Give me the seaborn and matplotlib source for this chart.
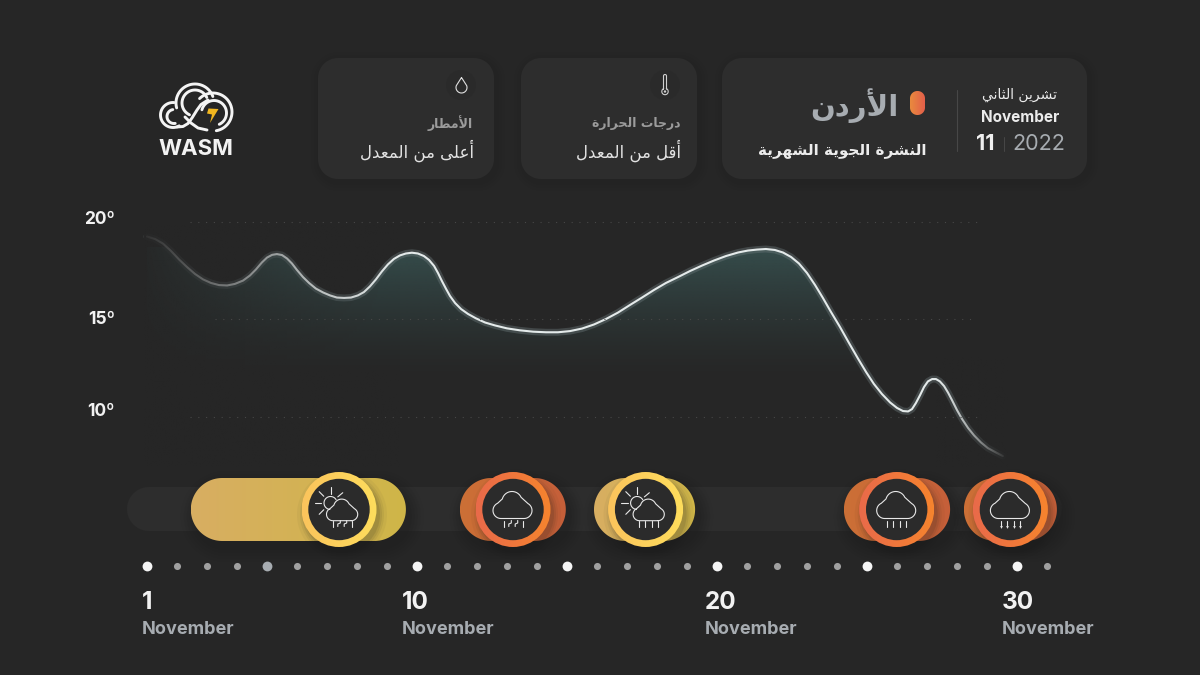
import numpy as np
import pandas as pd
import matplotlib
matplotlib.use('Agg')
import matplotlib.pyplot as plt
import matplotlib.patheffects as pe
from matplotlib.colors import to_rgb
from matplotlib.patches import Circle, Polygon
import seaborn as sns

# temperature curve
curve_days = [1.0, 1.27, 1.53, 1.8, 2.07, 2.33, 2.6, 2.87, 3.13, 3.4, 3.67, 3.93, 4.2, 4.43, 4.63, 4.83, 5.0, 5.17,
              5.33, 5.5, 5.67, 5.83, 6.0, 6.2, 6.4, 6.63, 6.87, 7.1, 7.33, 7.57, 7.8, 8.03, 8.23, 8.43, 8.63, 8.83,
              9.03, 9.23, 9.43, 9.63, 9.83, 10.03, 10.23, 10.4, 10.57, 10.7, 10.83, 10.97, 11.1, 11.27, 11.47, 11.7,
              11.97, 12.27, 12.6, 13.0, 13.43, 13.87, 14.3, 14.7, 15.1, 15.5, 15.9, 16.3, 16.7, 17.1, 17.5, 17.9,
              18.3, 18.7, 19.1, 19.5, 19.9, 20.3, 20.7, 21.03, 21.33, 21.63, 21.93, 22.2, 22.47, 22.73, 23.0, 23.27,
              23.53, 23.8, 24.1, 24.4, 24.7, 24.97, 25.23, 25.5, 25.77, 26.0, 26.2, 26.37, 26.5, 26.63, 26.77, 26.9,
              27.03, 27.17, 27.3, 27.43, 27.57, 27.7, 27.83, 28.0, 28.17, 28.37, 28.57, 28.8, 29.03, 29.27, 29.53]
curve_temps = [19.24, 19.11, 18.88, 18.5, 18.06, 17.68, 17.32, 17.04, 16.86, 16.75, 16.73, 16.81, 16.98, 17.24, 17.55,
               17.91, 18.16, 18.3, 18.34, 18.29, 18.11, 17.86, 17.52, 17.16, 16.86, 16.57, 16.37, 16.22, 16.11, 16.09,
               16.11, 16.22, 16.39, 16.68, 17.04, 17.45, 17.81, 18.09, 18.27, 18.37, 18.41, 18.37, 18.24, 18.04, 17.73,
               17.37, 16.96, 16.55, 16.19, 15.83, 15.52, 15.27, 15.04, 14.83, 14.68, 14.53, 14.43, 14.36, 14.33, 14.33,
               14.39, 14.52, 14.73, 15.01, 15.34, 15.73, 16.11, 16.5, 16.86, 17.16, 17.47, 17.75, 18.01, 18.24, 18.42,
               18.52, 18.57, 18.6, 18.55, 18.42, 18.19, 17.86, 17.37, 16.75, 16.09, 15.37, 14.6, 13.78, 12.98, 12.29,
               11.68, 11.16, 10.73, 10.45, 10.29, 10.27, 10.39, 10.7, 11.11, 11.52, 11.81, 11.93, 11.93, 11.81, 11.57,
               11.24, 10.86, 10.34, 9.88, 9.42, 9.04, 8.68, 8.39, 8.19, 7.98]
temp_ticks = [20, 15, 10]
temp_labels = ['20º', '15º', '10º']

# weather spells on the timeline
spell_start = [2.46, 11.43, 15.9, 24.23, 28.23]
spell_end = [9.63, 14.96, 19.27, 27.77, 31.33]
spell_mark = [7.4, 13.2, 17.62, 25.99, 29.78]
spell_kind = ['sun', 'storm', 'sun', 'storm', 'storm']
spell_rain = ['zig', 'zig', 'line', 'line', 'arrow']

all_days = list(range(1, 32))
major_days = [1, 10, 15, 20, 25, 30]
label_days = ['1', '10', '20', '30']
label_month = 'November'

title_ar = 'الأردن'
subtitle_ar = 'النشرة الجوية الشهرية'
month_ar = 'تشرين الثاني'
temp_head = 'درجات الحرارة'
temp_state = 'أقل من المعدل'
rain_head = 'الأمطار'
rain_state = 'أعلى من المعدل'

BG = '#262626'
CARD = '#2d2d2d'
GREY = '#a7acb1'

sns.set_style('dark')
plt.rcParams['font.family'] = ['Inter', 'DejaVu Sans']

# no shaping engine here, so Arabic goes through presentation forms
FORMS = {'ا': (0xFE8D, 0xFE8E), 'أ': (0xFE83, 0xFE84), 'د': (0xFEA9, 0xFEAA), 'ر': (0xFEAD, 0xFEAE),
         'و': (0xFEED, 0xFEEE), 'ة': (0xFE93, 0xFE94), 'ى': (0xFEEF, 0xFEF0),
         'ت': (0xFE95, 0xFE96, 0xFE97, 0xFE98), 'ث': (0xFE99, 0xFE9A, 0xFE9B, 0xFE9C),
         'ج': (0xFE9D, 0xFE9E, 0xFE9F, 0xFEA0), 'ح': (0xFEA1, 0xFEA2, 0xFEA3, 0xFEA4),
         'ش': (0xFEB5, 0xFEB6, 0xFEB7, 0xFEB8), 'ط': (0xFEC1, 0xFEC2, 0xFEC3, 0xFEC4),
         'ع': (0xFEC9, 0xFECA, 0xFECB, 0xFECC), 'ق': (0xFED5, 0xFED6, 0xFED7, 0xFED8),
         'ل': (0xFEDD, 0xFEDE, 0xFEDF, 0xFEE0), 'م': (0xFEE1, 0xFEE2, 0xFEE3, 0xFEE4),
         'ن': (0xFEE5, 0xFEE6, 0xFEE7, 0xFEE8), 'ه': (0xFEE9, 0xFEEA, 0xFEEB, 0xFEEC),
         'ي': (0xFEF1, 0xFEF2, 0xFEF3, 0xFEF4)}
LAM_ALEF = {'ا': (0xFEFB, 0xFEFC), 'أ': (0xFEF7, 0xFEF8)}


def shape(text):
    out = []
    for word in text.split(' '):
        glyphs = []
        joined = False
        i = 0
        while i < len(word):
            ch = word[i]
            if ch == 'ل' and i + 1 < len(word) and word[i + 1] in LAM_ALEF:
                glyphs.append(chr(LAM_ALEF[word[i + 1]][1 if joined else 0]))
                joined = False
                i += 2
                continue
            forms = FORMS[ch]
            next_ok = len(forms) == 4 and i + 1 < len(word)
            if joined and next_ok:
                glyphs.append(chr(forms[3]))
            elif joined:
                glyphs.append(chr(forms[1]))
            elif next_ok:
                glyphs.append(chr(forms[2]))
            else:
                glyphs.append(chr(forms[0]))
            joined = next_ok
            i += 1
        out.append(''.join(reversed(glyphs)))
    return ' '.join(reversed(out))


fig = plt.figure(figsize=(12, 6.75), dpi=100, facecolor=BG)

# pixel canvas for the cards and the timeline
deco = fig.add_axes([0, 0, 1, 1], zorder=0)
deco.set_xlim(0, 1200)
deco.set_ylim(675, 0)
deco.axis('off')
deco.autoscale(False)

# chart axes: 30 px per day, 19.5 px per degree
ax = fig.add_axes([0, 0, 1, 1], zorder=1)
ax.set_xlim(1 - 147 / 30, 1 + 1053 / 30)
ax.set_ylim(20 - (675 - 221.7) / 19.5, 20 + 221.7 / 19.5)
ax.patch.set_alpha(0)
ax.axis('off')
ax.autoscale(False)


def day_px(day):
    return 147 + 30 * (day - 1)


def temp_px(temp):
    return 221.7 + (20 - temp) * 19.5


def arc(cx, cy, r, a0, a1, n=40):
    a = np.radians(np.linspace(a0, a1, n))
    return np.column_stack([cx + r * np.cos(a), cy - r * np.sin(a)])


def round_box(x0, y0, x1, y1, radius, **kw):
    pts = np.vstack([arc(x1 - radius, y0 + radius, radius, 90, 0), arc(x1 - radius, y1 - radius, radius, 0, -90),
                     arc(x0 + radius, y1 - radius, radius, -90, -180), arc(x0 + radius, y0 + radius, radius, 180, 90)])
    return Polygon(pts, closed=True, **kw)


def h_gradient(patch, left, right, zorder):
    patch.set_facecolor('none')
    patch.set_edgecolor('none')
    patch.set_zorder(zorder)
    deco.add_patch(patch)
    box = patch.get_path().transformed(patch.get_patch_transform()).get_extents()
    ramp = np.linspace(0, 1, 64)[None, :, None]
    img = np.array(to_rgb(left))[None, None, :] * (1 - ramp) + np.array(to_rgb(right))[None, None, :] * ramp
    im = deco.imshow(img, extent=(box.x0, box.x1, box.y1, box.y0), aspect='auto', zorder=zorder, interpolation='bilinear')
    im.set_clip_path(patch)


def stroke(pts, color='#e8e8e8', lw=0.8, zorder=8):
    deco.plot(pts[:, 0], pts[:, 1], color=color, lw=lw, solid_capstyle='round', zorder=zorder)


def draw_cloud(cx, cy, scale):
    pts = np.vstack([arc(11, 1, 8, -90, 60), arc(-1, -8, 10, 25, 165), arc(-12, 1, 8, 115, 270)])
    pts = np.vstack([pts, pts[:1]])
    stroke(pts * scale + [cx, cy])


def draw_rain(cx, cy, kind):
    xs = [-9.5, -3.2, 3.2, 9.5]
    for i, x in enumerate(xs):
        if kind == 'line' or (kind == 'zig' and i in (0, 3)):
            stroke(np.array([[cx + x, cy + 11], [cx + x, cy + 17]]))
        elif kind == 'zig':
            stroke(np.array([[cx + x + 1.5, cy + 11], [cx + x + 1.5, cy + 13.5], [cx + x - 1, cy + 14.5], [cx + x - 1, cy + 17]]))
        else:
            stroke(np.array([[cx + x, cy + 11], [cx + x, cy + 16]]))
            deco.scatter([cx + x], [cy + 17], s=4, marker='v', color='#e8e8e8', zorder=8, linewidths=0)


def draw_sun(cx, cy):
    stroke(arc(cx - 8.5, cy - 6.5, 6.5, 30, 265))
    for angle in (90, 40, 135, 180, 225):
        a = np.radians(angle)
        inner = 9.5
        outer = 16
        stroke(np.array([[cx - 8.5 + inner * np.cos(a), cy - 6.5 - inner * np.sin(a)],
                         [cx - 8.5 + outer * np.cos(a), cy - 6.5 - outer * np.sin(a)]]))


# cards
cards = [(722, 58, 1087, 179), (521, 58, 697, 179), (318, 58, 494, 179)]
for x0, y0, x1, y1 in cards:
    for grow, alpha in ((9, .03), (6, .04), (3, .06)):
        deco.add_patch(round_box(x0 - grow + 2, y0 - grow + 3, x1 + grow + 2, y1 + grow + 3, 20 + grow,
                                 fc='#1c1c1c', ec='none', alpha=alpha, zorder=1))
    deco.add_patch(round_box(x0, y0, x1, y1, 20, fc=CARD, ec='none', zorder=2))

# header text
deco.plot([957, 957], [90, 151], color='#474747', lw=0.8, zorder=3)
deco.plot([1004, 1004], [137, 151], color='#474747', lw=0.7, zorder=3)
h_gradient(round_box(910, 91, 925, 115, 7.4), '#e98a3e', '#e35f4a', 3)
deco.text(898, 106, shape(title_ar), ha='right', va='center', fontsize=21, fontweight='bold', color=GREY, family='DejaVu Sans', zorder=4)
deco.text(926, 150, shape(subtitle_ar), ha='right', va='center', fontsize=10.9, fontweight='bold', color='#ececec', family='DejaVu Sans', zorder=4)
deco.text(1019, 95, shape(month_ar), ha='center', va='center', fontsize=10, color='#ececec', family='DejaVu Sans', zorder=4)
deco.text(1020, 118, label_month, ha='center', va='center', fontsize=11, fontweight='bold', color='#ececec', zorder=4)
deco.text(985, 144.5, '11', ha='center', va='center', fontsize=15.5, fontweight='bold', color='#f0f0f0', zorder=4)
deco.text(1039, 144.5, '2022', ha='center', va='center', fontsize=15.5, color=GREY, zorder=4)

for right, head, state, icon_x in ((680, temp_head, temp_state, 665), (473, rain_head, rain_state, 461)):
    deco.text(right, 123, shape(head), ha='right', va='center', fontsize=9, fontweight='bold', color='#9b9b9b', family='DejaVu Sans', zorder=4)
    deco.text(right + 1, 151, shape(state), ha='right', va='center', fontsize=12, color='#e2e2e2', family='DejaVu Sans', zorder=4)
    deco.add_patch(Circle((icon_x, 85), 15, fc='#2a2a2a', ec='none', zorder=3))

# thermometer and drop
stroke(np.vstack([[[663.5, 89]], arc(665, 76, 1.5, 180, 0, 12), [[666.5, 89]], arc(665, 91.5, 3.2, 65, -245, 30), [[663.5, 89]]]), color='#d0d0d0', lw=0.8, zorder=5)
deco.add_patch(Circle((665, 91.5), 1.2, fc='#d0d0d0', ec='none', zorder=5))
stroke(np.vstack([[[461.5, 77.5]], arc(461.5, 87.5, 5.5, 20, -200, 30), [[461.5, 77.5]]]), color='#e0e0e0', lw=0.8, zorder=5)

# logo
for cx, cy, r, a0, a1 in ((195, 103, 19, 20, 195), (195, 103, 13, 25, 245),
                          (173, 115, 12.5, 85, 300), (174, 116.5, 7, 100, 280),
                          (213, 112, 19, -80, 135), (214, 113, 12.5, -65, 165)):
    stroke(arc(cx, cy, r, a0, a1), color='#f4f4f4', lw=2.1, zorder=5)
stroke(np.array([[177, 127], [183, 126.5], [188, 123.5], [192, 118], [197, 110], [201, 104.5], [208, 100]]), color='#f4f4f4', lw=2.1, zorder=5)
stroke(np.array([[185, 117], [191, 123], [198, 128], [207, 130]]), color='#f4f4f4', lw=2.1, zorder=5)
deco.add_patch(Polygon([[208.5, 108.5], [218.5, 109], [210, 123], [212, 114.5], [207, 113.5]], fc='#f2b71f', ec='none', zorder=6))
deco.text(196, 149, 'WASM', ha='center', va='center', fontsize=16, fontweight='bold', color='#f2f2f2', zorder=5)

# timeline
deco.add_patch(round_box(127, 487, 1062, 531, 22, fc=CARD, ec='none', zorder=2))
for start, end, mark, kind, rain in zip(spell_start, spell_end, spell_mark, spell_kind, spell_rain):
    x0, x1, cx = day_px(start), day_px(end), day_px(mark)
    cy = 509.5
    sunny = kind == 'sun'
    for grow, alpha in ((14, .04), (11, .05), (8, .06), (5, .07), (2, .08)):
        deco.add_patch(round_box(x0 - grow + 4, 478 - grow + 7, x1 + grow + 4, 541 + grow + 7, 31.5 + grow,
                                 fc='#161616', ec='none', alpha=alpha, zorder=3))
    if sunny:
        h_gradient(round_box(x0, 478, x1, 541, 31.5), '#d8ae62', '#cfb648', 4)
    else:
        h_gradient(round_box(x0, 478, x1, 541, 31.5), '#cc7036', '#c55f3a', 4)
    for grow, alpha in ((8, .04), (5, .06), (3, .08), (1, .1)):
        deco.add_patch(Circle((cx + 3, cy + 5), 37 + grow, fc='#1a1a1a', ec='none', alpha=alpha, zorder=5))
    ring = Circle((cx, cy), 37.5)
    if sunny:
        h_gradient(ring, '#fbc45c', '#fedd5c', 6)
    else:
        h_gradient(ring, '#e96a4a', '#f6842e', 6)
    deco.add_patch(Circle((cx, cy), 30.7, fc='#2b2b2b', ec='none', zorder=7))
    if sunny:
        draw_sun(cx, cy)
        draw_cloud(cx + 3.5, cy + 4, 0.8)
    else:
        draw_cloud(cx, cy, 1)
    draw_rain(cx + (3 if sunny else 0), cy, rain)

# faint temperature grid
ax.hlines(temp_ticks[0], (190 - 147) / 30 + 1, (982 - 147) / 30 + 1, color='#474747', lw=0.8, linestyles=(0, (1, 6)), zorder=5)
ax.hlines(temp_ticks[1], (215 - 147) / 30 + 1, (975 - 147) / 30 + 1, color='#474747', lw=0.8, linestyles=(0, (1, 6)), zorder=5)
ax.hlines(temp_ticks[2], (190 - 147) / 30 + 1, (978 - 147) / 30 + 1, color='#474747', lw=0.8, linestyles=(0, (1, 6)), zorder=5)
for tick, label, nudge in zip(temp_ticks, temp_labels, (-2, 0, -5)):
    deco.text(115, temp_px(tick) + nudge, label, ha='right', va='center', fontsize=12.5, fontweight='bold', color='#f2f2f2', zorder=5)

# area under the curve, fading downward
curve = pd.DataFrame({'day': curve_days, 'temp': curve_temps})
floor = 11.8
under = ax.fill_between(curve['day'], curve['temp'], floor, where=curve['temp'] >= floor, interpolate=True, color='none', lw=0)
shade = np.zeros((128, 2, 4))
shade[..., :3] = to_rgb('#37504f')
shade[:, :, 3] = np.linspace(0.95, 0, 128)[:, None] ** 1.4
im = ax.imshow(shade, extent=(1, 30, floor, 18.7), aspect='auto', zorder=1, interpolation='bilinear')
im.set_clip_path(under.get_paths()[0], transform=ax.transData)

# the line itself, with its soft halo
sns.lineplot(data=curve, x='day', y='temp', estimator=None, sort=False, ax=ax, color='#e4eaea', lw=1.5, zorder=3, legend=False,
             path_effects=[pe.Stroke(linewidth=5, foreground='#6d7a7c', alpha=0.4), pe.Normal()])
ax.set_xlabel('')
ax.set_ylabel('')

# both ends of the curve fade into the background
fade = np.zeros((2, 128, 4))
fade[..., :3] = to_rgb(BG)
fade[:, :, 3] = 0.95 * np.linspace(1, 0, 128) ** 1.3
ax.imshow(fade, extent=(0.9, 9.6, 7.4, 19.8), aspect='auto', zorder=4, interpolation='bilinear')
fade = np.zeros((2, 128, 4))
fade[..., :3] = to_rgb(BG)
fade[:, :, 3] = np.linspace(0, 1, 128) ** 1.5
ax.imshow(fade, extent=(27.2, 29.7, 7.4, 13), aspect='auto', zorder=4, interpolation='bilinear')

# day dots
dots = pd.DataFrame({'day': all_days})
dots['row'] = 20 - (566 - 221.7) / 19.5
minor = dots[~dots['day'].isin(major_days + [5])]
sns.scatterplot(data=minor, x='day', y='row', ax=ax, color='#a0a0a0', s=26, linewidth=0, legend=False, zorder=6)
sns.scatterplot(data=dots[dots['day'] == 5], x='day', y='row', ax=ax, color=GREY, s=50, linewidth=0, legend=False, zorder=6)
sns.scatterplot(data=dots[dots['day'].isin(major_days)], x='day', y='row', ax=ax, color='#f5f5f5', s=50, linewidth=0, legend=False, zorder=6)
ax.set_xlabel('')
ax.set_ylabel('')

for day, x in zip(label_days, (142, 402, 705, 1002)):
    deco.text(x, 602.5, day, ha='left', va='center', fontsize=17.5, fontweight='bold', color='#f2f2f2', zorder=5)
    deco.text(x, 629.5, label_month, ha='left', va='center', fontsize=13, fontweight='bold', color=GREY, zorder=5)

fig.savefig('out.png', dpi=100, facecolor=BG)
